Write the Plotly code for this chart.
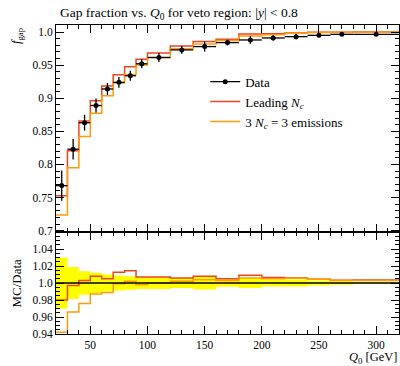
import plotly.graph_objects as go

# ---- data ----
edges = [20, 30, 40, 50, 60, 70, 80, 90, 100, 120, 140, 160, 180, 200, 220, 240, 260, 280, 320]
data = [0.768, 0.823, 0.863, 0.889, 0.914, 0.924, 0.934, 0.952, 0.9615, 0.973,
        0.978, 0.984, 0.988, 0.991, 0.993, 0.995, 0.9965, 0.9965]
data_err = [0.023, 0.0156, 0.012, 0.0107, 0.0091, 0.0081, 0.0075, 0.0067, 0.0067, 0.0058,
            0.0076, 0.0044, 0.0059, 0.0040, 0.0040, 0.0030, 0.0020, 0.0010]
leading = [0.7526, 0.8205, 0.8656, 0.8961, 0.9186, 0.9356, 0.9475, 0.9587, 0.9682, 0.9788,
           0.9858, 0.9889, 0.9969, 0.9975, 0.9990, 0.9995, 0.9998, 0.9999]
three = [0.7235, 0.7950, 0.8423, 0.8774, 0.9039, 0.9231, 0.9359, 0.9501, 0.9615, 0.9749,
         0.9819, 0.9870, 0.9939, 0.9960, 0.9985, 0.9993, 0.9995, 0.9995]

main_yticks = [0.7, 0.75, 0.8, 0.85, 0.9, 0.95, 1.0]
main_yticktext = ["0.7", "0.75", "0.8", "0.85", "0.9", "0.95", "1.0"]
ratio_yticks = [0.94, 0.96, 0.98, 1.0, 1.02, 1.04]
ratio_yticktext = ["0.94", "0.96", "0.98", "1.0", "1.02", "1.04"]
xticks = [50, 100, 150, 200, 250, 300]

RED = "#ee4422"
ORANGE = "#ff9a0a"
FONT = "Liberation Serif"

centers = [(edges[i] + edges[i + 1]) / 2 for i in range(len(data))]
halfw = [(edges[i + 1] - edges[i]) / 2 for i in range(len(data))]


def step(vals):
    return list(vals) + [vals[-1]]


fig = go.Figure()

# ---- ratio panel ----
rel = [e / d for e, d in zip(data_err, data)]
band_hi = [1 + r for r in rel]
band_lo = [1 - r for r in rel]
fig.add_trace(go.Scatter(x=edges, y=step(band_lo), mode="lines", line=dict(width=0, shape="hv"),
                         showlegend=False, hoverinfo="skip", xaxis="x2", yaxis="y2"))
fig.add_trace(go.Scatter(x=edges, y=step(band_hi), mode="lines", line=dict(width=0, shape="hv"),
                         fill="tonexty", fillcolor="#ffff00", showlegend=False, hoverinfo="skip",
                         xaxis="x2", yaxis="y2"))
r_lead = [m / d for m, d in zip(leading, data)]
r_three = [m / d for m, d in zip(three, data)]
fig.add_trace(go.Scatter(x=edges, y=step(r_lead), mode="lines", line=dict(color=RED, width=1.5, shape="hv"),
                         showlegend=False, xaxis="x2", yaxis="y2"))
fig.add_trace(go.Scatter(x=edges, y=step(r_three), mode="lines", line=dict(color=ORANGE, width=1.5, shape="hv"),
                         showlegend=False, xaxis="x2", yaxis="y2"))
fig.add_trace(go.Scatter(x=edges, y=step([d / d for d in data]), mode="lines",
                         line=dict(color="black", width=1.5, shape="hv"),
                         showlegend=False, xaxis="x2", yaxis="y2"))

# ---- main panel ----
fig.add_trace(go.Scatter(x=edges, y=step(leading), mode="lines", line=dict(color=RED, width=1.5, shape="hv"),
                         showlegend=False))
fig.add_trace(go.Scatter(x=edges, y=step(three), mode="lines", line=dict(color=ORANGE, width=1.5, shape="hv"),
                         showlegend=False))
fig.add_trace(go.Scatter(x=centers, y=data, mode="markers",
                         marker=dict(color="black", size=5),
                         error_y=dict(type="data", array=data_err, color="black", thickness=1.3, width=0),
                         error_x=dict(type="data", array=halfw, color="black", thickness=1.3, width=0),
                         showlegend=False))

# legend entries
fig.add_trace(go.Scatter(x=[None], y=[None], mode="lines+markers", name="Data",
                         line=dict(color="black", width=1.3), marker=dict(color="black", size=5)))
fig.add_trace(go.Scatter(x=[None], y=[None], mode="lines", name="Leading <i>N</i><sub><i>c</i></sub>",
                         line=dict(color=RED, width=1.5)))
fig.add_trace(go.Scatter(x=[None], y=[None], mode="lines",
                         name="3 <i>N</i><sub><i>c</i></sub> = 3 emissions",
                         line=dict(color=ORANGE, width=1.5)))

split = 0.33
tickfont = dict(family=FONT, size=11.5, color="black")
axis_common = dict(showline=True, linecolor="black", linewidth=1, mirror="ticks", ticks="inside",
                   tickcolor="black", showgrid=False, zeroline=False, tickfont=tickfont)

fig.update_layout(
    width=400, height=366,
    margin=dict(l=56, r=1, t=25, b=32),
    plot_bgcolor="white", paper_bgcolor="white",
    font=dict(family=FONT, size=11, color="black"),
    xaxis=dict(domain=[0, 1], range=[20, 320], anchor="y", tickvals=xticks, showticklabels=False,
               ticklen=8, minor=dict(dtick=10, tick0=0, ticklen=4, ticks="inside", tickcolor="black"),
               **axis_common),
    yaxis=dict(domain=[split, 1], range=[0.6979, 1.0106], anchor="x", tickvals=main_yticks,
               ticktext=main_yticktext, ticklen=8,
               minor=dict(dtick=0.01, tick0=0.7, ticklen=4, ticks="inside", tickcolor="black"),
               **axis_common),
    xaxis2=dict(domain=[0, 1], range=[20, 320], anchor="y2", matches="x", tickvals=xticks,
                ticklen=8, minor=dict(dtick=10, tick0=0, ticklen=4, ticks="inside", tickcolor="black"),
                **axis_common),
    yaxis2=dict(domain=[0, split], range=[0.94, 1.06], anchor="x2", tickvals=ratio_yticks,
                ticktext=ratio_yticktext, ticklen=8,
                minor=dict(dtick=0.005, tick0=0.94, ticklen=4, ticks="inside", tickcolor="black"),
                **axis_common),
    legend=dict(x=0.435, y=0.865, xanchor="left", yanchor="top", bgcolor="rgba(0,0,0,0)",
                font=dict(family=FONT, size=13), tracegroupgap=0, traceorder="normal"),
    showlegend=True,
)

fig.add_annotation(text="Gap fraction vs. <i>Q</i><sub>0</sub> for veto region: |<i>y</i>| &lt; 0.8",
                   xref="paper", yref="paper", x=0.005, y=1.0, yshift=1, xanchor="left", yanchor="bottom",
                   showarrow=False, font=dict(family=FONT, size=13.5))
fig.add_annotation(text="<i>f</i><sub>gap</sub>", xref="paper", yref="paper", x=-0.115, y=1.0,
                   xanchor="center", yanchor="top", textangle=-90, showarrow=False,
                   font=dict(family=FONT, size=12.5))
fig.add_annotation(text="MC/Data", xref="paper", yref="paper", x=-0.118, y=split / 2,
                   xanchor="center", yanchor="middle", textangle=-90, showarrow=False,
                   font=dict(family=FONT, size=13))
fig.add_annotation(text="<i>Q</i><sub>0</sub> [GeV]", xref="paper", yref="paper", x=1.0, y=-0.045,
                   xanchor="right", yanchor="top", showarrow=False, font=dict(family=FONT, size=12.5))

fig.write_html("out.html")
